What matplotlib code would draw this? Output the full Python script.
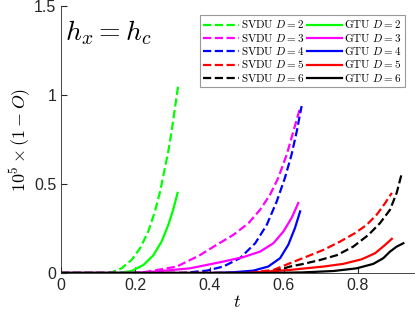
import matplotlib
matplotlib.use("Agg")
import matplotlib.pyplot as plt

plt.rcParams['mathtext.fontset'] = 'cm'
plt.rcParams['font.family'] = ['Liberation Sans', 'DejaVu Sans']

# SVDU (dashed) curves
t_svdu2 = [0, 0.12, 0.137, 0.163, 0.190, 0.213, 0.235, 0.253, 0.267, 0.278,
           0.289, 0.298, 0.307, 0.316]
v_svdu2 = [0, 0, 0.004, 0.026, 0.073, 0.139, 0.233, 0.346, 0.459, 0.571,
           0.684, 0.797, 0.929, 1.06]
t_svdu3 = [0, 0.21, 0.249, 0.312, 0.374, 0.419, 0.464, 0.505, 0.536, 0.563,
           0.585, 0.608, 0.626, 0.644]
v_svdu3 = [0, 0, 0.013, 0.036, 0.10, 0.158, 0.214, 0.28, 0.355, 0.44,
           0.534, 0.666, 0.797, 0.929]
t_svdu4 = [0, 0.33, 0.347, 0.392, 0.437, 0.482, 0.523, 0.554, 0.581, 0.603,
           0.621, 0.635, 0.648]
v_svdu4 = [0, 0, 0.004, 0.013, 0.036, 0.083, 0.167, 0.27, 0.402, 0.534,
           0.666, 0.797, 0.938]
t_svdu5 = [0, 0.50, 0.572, 0.617, 0.662, 0.707, 0.752, 0.792, 0.823, 0.850,
           0.873, 0.891]
v_svdu5 = [0, 0, 0.017, 0.055, 0.092, 0.13, 0.177, 0.224, 0.27, 0.327,
           0.393, 0.45]
t_svdu6 = [0, 0.52, 0.572, 0.617, 0.653, 0.698, 0.743, 0.787, 0.828, 0.859,
           0.886, 0.904, 0.918]
v_svdu6 = [0, 0, 0.008, 0.036, 0.051, 0.073, 0.10, 0.148, 0.214, 0.28,
           0.355, 0.45, 0.562]

# GTU (solid) curves
t_gtu2 = [0, 0.154, 0.190, 0.222, 0.249, 0.271, 0.289, 0.302, 0.314]
v_gtu2 = [0, 0, 0.011, 0.045, 0.10, 0.177, 0.27, 0.355, 0.45]
t_gtu3 = [0, 0.20, 0.249, 0.347, 0.383, 0.437, 0.491, 0.536, 0.572, 0.599,
          0.621, 0.639]
v_gtu3 = [0, 0, 0.007, 0.026, 0.041, 0.064, 0.089, 0.12, 0.167, 0.233,
          0.309, 0.393]
t_gtu4 = [0, 0.40, 0.464, 0.518, 0.558, 0.590, 0.612, 0.630, 0.644]
v_gtu4 = [0, 0, 0.004, 0.013, 0.036, 0.083, 0.158, 0.252, 0.346]
t_gtu5 = [0, 0.50, 0.617, 0.644, 0.707, 0.760, 0.810, 0.846, 0.873, 0.891]
v_gtu5 = [0, 0, 0.017, 0.023, 0.036, 0.051, 0.077, 0.111, 0.158, 0.192]
t_gtu6 = [0, 0.55, 0.65, 0.734, 0.796, 0.841, 0.868, 0.886, 0.904, 0.922]
v_gtu6 = [0, 0, 0.003, 0.011, 0.026, 0.051, 0.083, 0.12, 0.148, 0.167]

colors = ['#00ff00', '#ff00ff', '#0000ff', '#ff0000', '#000000']
svdu = [(t_svdu2, v_svdu2), (t_svdu3, v_svdu3), (t_svdu4, v_svdu4),
        (t_svdu5, v_svdu5), (t_svdu6, v_svdu6)]
gtu = [(t_gtu2, v_gtu2), (t_gtu3, v_gtu3), (t_gtu4, v_gtu4),
       (t_gtu5, v_gtu5), (t_gtu6, v_gtu6)]

fig = plt.figure(figsize=(4.15, 3.2), dpi=100)
ax = fig.add_axes([0.147, 0.147, 0.85, 0.834])

for i, (t, v) in enumerate(svdu):
    ax.plot(t, v, '--', color=colors[i], lw=1.6,
            label=r'$\mathrm{SVDU}\ D=%d$' % (i + 2))
for i, (t, v) in enumerate(gtu):
    ax.plot(t, v, '-', color=colors[i], lw=1.6,
            label=r'$\mathrm{GTU}\ D=%d$' % (i + 2))

ax.set_xlim(0, 0.95)
ax.set_ylim(0, 1.5)
ax.set_xticks([0, 0.2, 0.4, 0.6, 0.8])
ax.set_xticklabels(['0', '0.2', '0.4', '0.6', '0.8'])
ax.set_yticks([0, 0.5, 1, 1.5])
ax.set_yticklabels(['0', '0.5', '1', '1.5'])
ax.tick_params(direction='in', labelsize=11.5, colors='#262626', length=4)
for s in ['top', 'right']:
    ax.spines[s].set_visible(False)
for s in ['left', 'bottom']:
    ax.spines[s].set_color('#262626')
    ax.spines[s].set_linewidth(0.6)

ax.set_xlabel(r'$t$', fontsize=13, labelpad=1)
ax.set_ylabel(r'$10^5\times(1-O)$', fontsize=13, labelpad=1)

ax.text(0.012, 1.35, r'$h_x=h_c$', fontsize=20, va='center', ha='left')

leg = ax.legend(ncol=2, loc='upper right', bbox_to_anchor=(0.975, 0.966),
                borderaxespad=0, fontsize=8, handlelength=3.2,
                columnspacing=0.2, handletextpad=0.2, labelspacing=0.12,
                borderpad=0.3, fancybox=False, framealpha=1)
leg.get_frame().set_edgecolor('#999999')
leg.get_frame().set_linewidth(0.8)

fig.savefig('out.png', dpi=100)
